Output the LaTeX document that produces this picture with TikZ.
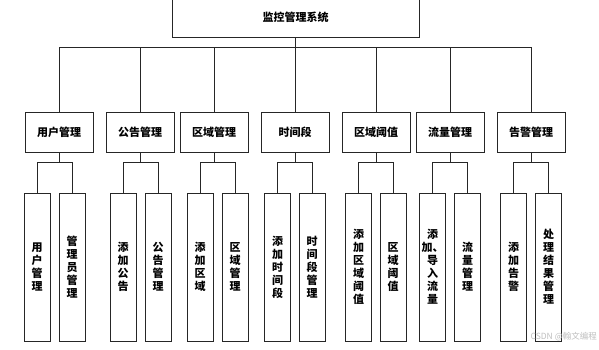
\documentclass[tikz,border=0pt]{standalone}
\usepackage{fontspec}
\newfontfamily\cjk{Noto Sans CJK SC}
\begin{document}
\begin{tikzpicture}[x=1pt,y=-1pt,
  every node/.style={inner sep=0pt},
  line/.style={draw=black!85,line width=0.75pt},
  topbox/.style={line,minimum width=247pt,minimum height=39pt,font=\cjk\bfseries\fontsize{11}{13}\selectfont},
  midbox/.style={line,minimum width=68pt,minimum height=40pt,font=\cjk\bfseries\fontsize{11}{13}\selectfont},
  leafbox/.style={line,minimum width=26pt,minimum height=148pt,align=center,font=\cjk\bfseries\fontsize{11}{13}\selectfont},
  conn/.style={line}]
\useasboundingbox (0,0) rectangle (599,349);
\fill[white] (0,0) rectangle (599,349);
\node[topbox] (top) at (295.5,17.5) {监控管理系统};
% level 2
\node[midbox] (p1) at (59,132) {用户管理};
\node[midbox] (p2) at (140,132) {公告管理};
\node[midbox] (p3) at (214,132) {区域管理};
\node[midbox] (p4) at (295,132) {时间段};
\node[midbox] (p5) at (376,132) {区域阈值};
\node[midbox] (p6) at (450,132) {流量管理};
\node[midbox] (p7) at (531,132) {告警管理};
% leaves
\node[leafbox] (c1a) at (37,267) {用\\户\\管\\理};
\node[leafbox] (c1b) at (72,267) {管\\理\\员\\管\\理};
\node[leafbox] (c2a) at (123,267) {添\\加\\公\\告};
\node[leafbox] (c2b) at (158,267) {公\\告\\管\\理};
\node[leafbox] (c3a) at (200,267) {添\\加\\区\\域};
\node[leafbox] (c3b) at (235,267) {区\\域\\管\\理};
\node[leafbox] (c4a) at (277.5,267) {添\\加\\时\\间\\段};
\node[leafbox] (c4b) at (312,267) {时\\间\\段\\管\\理};
\node[leafbox] (c5a) at (358.5,267) {添\\加\\区\\域\\阈\\值};
\node[leafbox] (c5b) at (393,267) {区\\域\\阈\\值};
\node[leafbox] (c6a) at (432.5,267) {添\\加、\\导\\入\\流\\量};
\node[leafbox] (c6b) at (467.5,267) {流\\量\\管\\理};
\node[leafbox] (c7a) at (513.5,267) {添\\加\\告\\警};
\node[leafbox] (c7b) at (548.5,267) {处\\理\\结\\果\\管\\理};
% top connectors
\draw[conn] (top.south) -- ++(0,11);
\draw[conn] (p1.north) -- ++(0,-64) -| (p7.north);
\foreach \p in {p2,p3,p4,p5,p6} \draw[conn] (\p.north) -- ++(0,-64);
% leaf connectors
\foreach \p/\a/\b in {p1/c1a/c1b,p2/c2a/c2b,p3/c3a/c3b,p4/c4a/c4b,p5/c5a/c5b,p6/c6a/c6b,p7/c7a/c7b}{
  \draw[conn] (\p.south) -- ++(0,11);
  \draw[conn] (\a.north) -- ++(0,-30) -| (\b.north);
}
\node[text=black!25,font=\fontspec{Noto Sans CJK SC}\fontsize{8.5}{10}\selectfont,anchor=east] (wm) at (597,337) {CSDN @翰文编程};
\end{tikzpicture}
\end{document}
